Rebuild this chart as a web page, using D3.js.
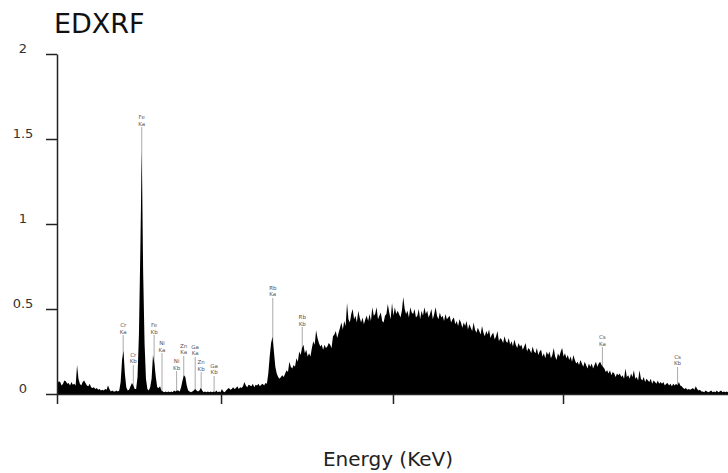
<!DOCTYPE html>
<html>
<head>
<meta charset="utf-8">
<script src="https://cdn.jsdelivr.net/npm/d3@7"></script>
<style>
  body { margin: 0; background: #fff; }
  svg { display: block; }
</style>
</head>
<body>
<svg id="chart" width="728" height="473"></svg>
<script>
// spectrum: counts per 0.075 keV channel, first channel at 1.90 keV
var startEnergy = 1.90;
var channelWidth = 0.075;
var counts = [
  0.06, 0.075, 0.07, 0.05, 0.06, 0.08, 0.075, 0.06, 0.065, 0.05,
  0.07, 0.055, 0.06, 0.05, 0.17, 0.09, 0.06, 0.05, 0.07, 0.08,
  0.065, 0.05, 0.045, 0.06, 0.04, 0.035, 0.04, 0.03, 0.035, 0.025,
  0.03, 0.02, 0.025, 0.02, 0.03, 0.025, 0.05, 0.03, 0.015, 0.02,
  0.015, 0.015, 0.02, 0.015, 0.02, 0.07, 0.20, 0.255, 0.12, 0.04,
  0.02, 0.025, 0.045, 0.065, 0.05, 0.03, 0.03, 0.10, 0.35, 0.85,
  1.425, 0.72, 0.30, 0.09, 0.03, 0.02, 0.04, 0.09, 0.23, 0.18,
  0.10, 0.04, 0.035, 0.045, 0.02, 0.015, 0.01, 0.015, 0.01, 0.015,
  0.01, 0.015, 0.01, 0.02, 0.015, 0.02, 0.02, 0.015, 0.04, 0.08,
  0.11, 0.10, 0.05, 0.02, 0.015, 0.01, 0.015, 0.02, 0.03, 0.02,
  0.015, 0.02, 0.035, 0.02, 0.01, 0.015, 0.01, 0.015, 0.01, 0.015,
  0.01, 0.015, 0.01, 0.02, 0.01, 0.015, 0.01, 0.03, 0.015, 0.01,
  0.02, 0.03, 0.035, 0.025, 0.03, 0.04, 0.03, 0.035, 0.045, 0.03,
  0.04, 0.035, 0.045, 0.07, 0.05, 0.04, 0.055, 0.05, 0.045, 0.06,
  0.04, 0.055, 0.05, 0.06, 0.045, 0.055, 0.06, 0.05, 0.065, 0.06,
  0.12, 0.22, 0.30, 0.337, 0.25, 0.16, 0.12, 0.10, 0.09, 0.10,
  0.11, 0.10, 0.12, 0.14, 0.13, 0.19, 0.16, 0.15, 0.17, 0.16,
  0.21, 0.19, 0.25, 0.23, 0.27, 0.29, 0.24, 0.26, 0.22, 0.24,
  0.22, 0.27, 0.31, 0.29, 0.375, 0.33, 0.30, 0.28, 0.29, 0.26,
  0.29, 0.27, 0.28, 0.30, 0.29, 0.27, 0.34, 0.35, 0.37, 0.33,
  0.36, 0.39, 0.42, 0.38, 0.43, 0.40, 0.535, 0.44, 0.42, 0.47,
  0.50, 0.44, 0.46, 0.42, 0.49, 0.45, 0.42, 0.45, 0.41, 0.44,
  0.46, 0.43, 0.47, 0.43, 0.51, 0.46, 0.47, 0.51, 0.44, 0.46,
  0.48, 0.43, 0.42, 0.46, 0.47, 0.53, 0.48, 0.44, 0.535, 0.46,
  0.51, 0.47, 0.49, 0.47, 0.45, 0.49, 0.57, 0.50, 0.47, 0.49,
  0.45, 0.51, 0.48, 0.47, 0.50, 0.45, 0.46, 0.50, 0.44, 0.49,
  0.46, 0.51, 0.47, 0.49, 0.45, 0.47, 0.50, 0.44, 0.47, 0.51,
  0.46, 0.44, 0.48, 0.45, 0.46, 0.43, 0.47, 0.44, 0.45, 0.46,
  0.42, 0.44, 0.45, 0.41, 0.43, 0.40, 0.44, 0.42, 0.39, 0.42,
  0.40, 0.43, 0.38, 0.41, 0.39, 0.37, 0.42, 0.38, 0.36, 0.39,
  0.37, 0.35, 0.40, 0.36, 0.34, 0.37, 0.35, 0.38, 0.33, 0.35,
  0.36, 0.32, 0.34, 0.37, 0.31, 0.33, 0.32, 0.30, 0.34, 0.31,
  0.30, 0.33, 0.29, 0.31, 0.28, 0.32, 0.29, 0.27, 0.30, 0.28,
  0.29, 0.26, 0.28, 0.30, 0.25, 0.27, 0.26, 0.24, 0.28, 0.25,
  0.24, 0.27, 0.23, 0.25, 0.26, 0.22, 0.24, 0.21, 0.25, 0.23,
  0.25, 0.21, 0.23, 0.27, 0.22, 0.20, 0.24, 0.22, 0.25, 0.27,
  0.22, 0.24, 0.21, 0.23, 0.20, 0.22, 0.19, 0.23, 0.20, 0.18,
  0.19, 0.17, 0.20, 0.18, 0.16, 0.19, 0.17, 0.15, 0.18, 0.16,
  0.18, 0.15, 0.17, 0.19, 0.16, 0.18, 0.19, 0.17, 0.16, 0.15,
  0.13, 0.14, 0.12, 0.14, 0.11, 0.13, 0.12, 0.10, 0.12, 0.11,
  0.12, 0.10, 0.11, 0.09, 0.15, 0.10, 0.11, 0.09, 0.12, 0.10,
  0.14, 0.09, 0.10, 0.08, 0.14, 0.09, 0.08, 0.10, 0.07, 0.09,
  0.08, 0.07, 0.09, 0.06, 0.08, 0.07, 0.06, 0.08, 0.06, 0.07,
  0.06, 0.07, 0.05, 0.06, 0.065, 0.05, 0.06, 0.045, 0.06, 0.05,
  0.06, 0.05, 0.07, 0.05, 0.045, 0.035, 0.03, 0.035, 0.025, 0.03,
  0.025, 0.03, 0.035, 0.025, 0.045, 0.03, 0.02, 0.025, 0.015, 0.015,
  0.01, 0.02, 0.015, 0.01, 0.015, 0.02, 0.01, 0.015, 0.01, 0.02,
  0.01, 0.015, 0.02, 0.01, 0.015, 0.01, 0.015, 0.01
];

// element lines marked on the spectrum
var peakElements = ["Cr", "Cr", "Fe", "Fe", "Ni", "Ni", "Zn", "Ga", "Zn", "Ga", "Rb", "Rb", "Cs", "Cs"];
var peakLines    = ["Ka", "Kb", "Ka", "Kb", "Ka", "Kb", "Ka", "Ka", "Kb", "Kb", "Ka", "Kb", "Ka", "Kb"];
var peakEnergies = [5.41, 5.95, 6.40, 7.06, 7.48, 8.26, 8.64, 9.25, 9.57, 10.26, 13.39, 14.96, 30.97, 34.98];
var peakMarkTops = [0.347, 0.171, 1.57, 0.347, 0.241, 0.135, 0.224, 0.218, 0.129, 0.106, 0.565, 0.394, 0.276, 0.159];

var yTicks = [0, 0.5, 1, 1.5, 2];
var xTicks = [1.88, 10.63, 19.80, 28.87];

var svg = d3.select("#chart");
var x = d3.scaleLinear().domain([1.88, 37.67]).range([57, 728]);
var y = d3.scaleLinear().domain([0, 2]).range([394, 54]);

var spectrum = counts.map(function(c, i) {
  return { e: startEnergy + i * channelWidth, c: c };
});

// title
svg.append("text")
  .attr("x", 54).attr("y", 33)
  .style("font-family", "DejaVu Sans, sans-serif")
  .style("font-size", "27px")
  .style("fill", "#111")
  .text("EDXRF");

// marker lines go behind the spectrum
var marks = svg.append("g").attr("class", "marks").style("opacity", 0.99);
peakEnergies.forEach(function(e, i) {
  var px = x(e), top = y(peakMarkTops[i]);
  marks.append("line")
    .attr("x1", px).attr("x2", px)
    .attr("y1", top).attr("y2", y(0))
    .style("stroke", "#aaa").style("stroke-width", 1);
  marks.append("text")
    .attr("x", px).attr("y", top - 8)
    .attr("text-anchor", "middle")
    .style("font-family", "DejaVu Sans, sans-serif")
    .style("font-size", "5.5px").style("fill", "#555")
    .text(peakElements[i]);
  marks.append("text")
    .attr("x", px).attr("y", top - 1.5)
    .attr("text-anchor", "middle")
    .style("font-family", "DejaVu Sans, sans-serif")
    .style("font-size", "5.5px").style("fill", "#555")
    .text(peakLines[i]);
});

var area = d3.area()
  .x(function(d) { return x(d.e); })
  .y0(y(0))
  .y1(function(d) { return y(d.c); });

svg.append("path")
  .datum(spectrum)
  .attr("d", area)
  .style("fill", "#000");

// axes
var yAxis = d3.axisLeft(y)
  .tickValues(yTicks)
  .tickSize(11)
  .tickSizeOuter(0)
  .tickFormat(function(d) { return d3.format("")(d); });

var gy = svg.append("g")
  .attr("transform", "translate(57,0)")
  .call(yAxis);
gy.selectAll("path, line").style("stroke", "#222").style("stroke-width", 1.5);
gy.selectAll("text")
  .attr("x", -34).attr("dy", "-0.1em")
  .attr("text-anchor", "middle")
  .style("font-family", "DejaVu Sans, sans-serif")
  .style("font-size", "13px")
  .style("fill", "#333");

var xAxis = d3.axisBottom(x)
  .tickValues(xTicks)
  .tickSize(10)
  .tickSizeOuter(0)
  .tickFormat("");

var gx = svg.append("g")
  .attr("transform", "translate(0,394)")
  .call(xAxis);
gx.selectAll("path, line").style("stroke", "#222").style("stroke-width", 1.5);

svg.append("text")
  .attr("x", 388).attr("y", 466)
  .attr("text-anchor", "middle")
  .style("font-family", "DejaVu Sans, sans-serif")
  .style("font-size", "20px")
  .style("fill", "#222")
  .text("Energy (KeV)");
</script>
</body>
</html>
